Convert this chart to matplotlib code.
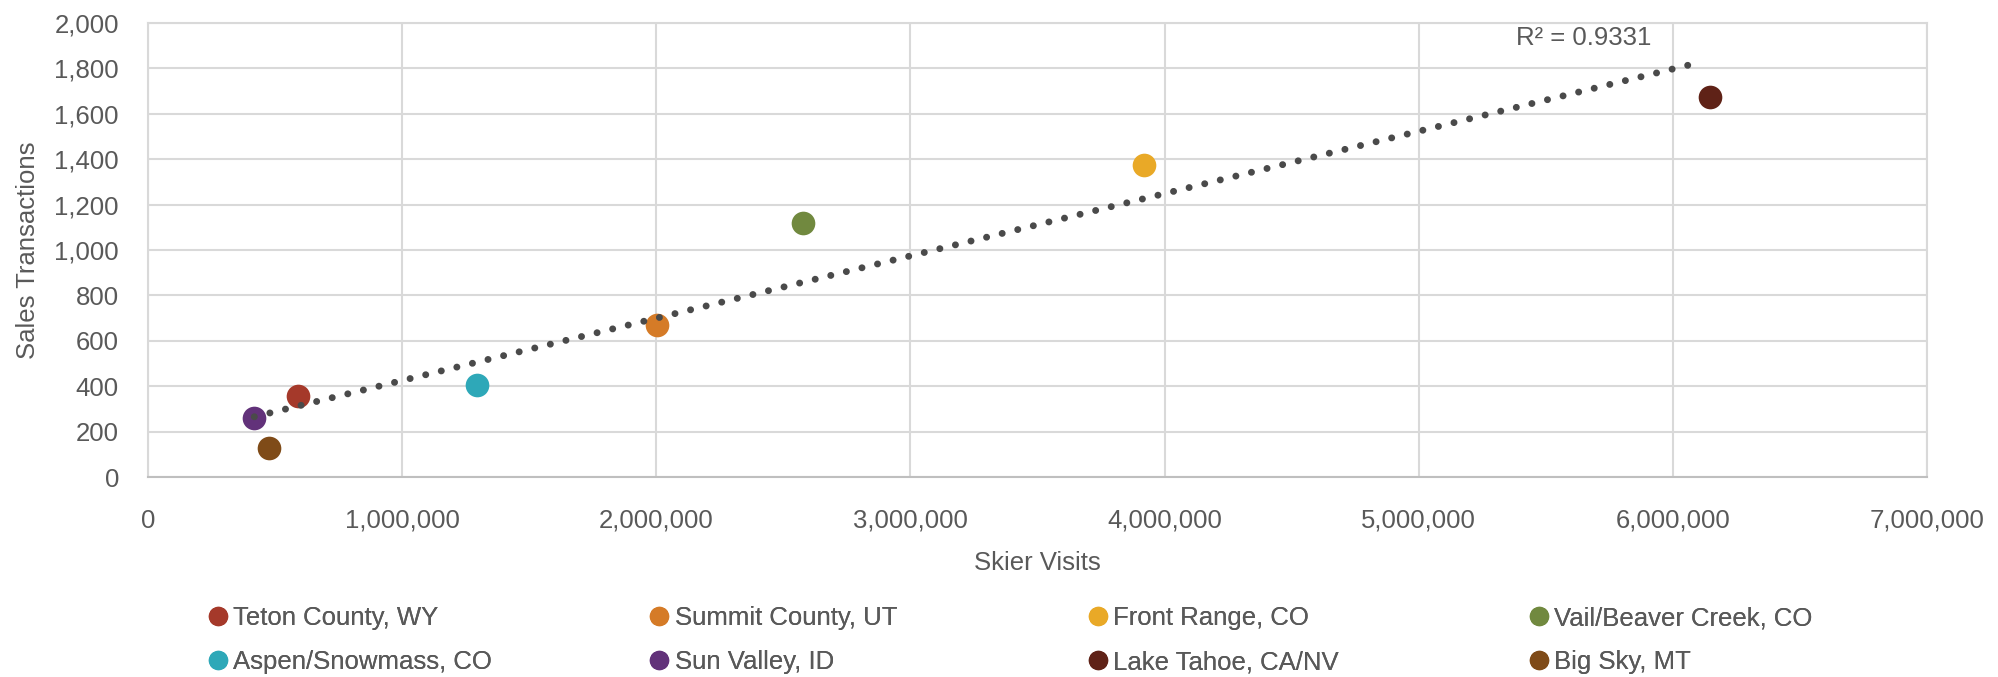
import numpy as np
import matplotlib
matplotlib.use("Agg")
import matplotlib.pyplot as plt
from matplotlib.ticker import FuncFormatter, MultipleLocator
from matplotlib.lines import Line2D

plt.rcParams['font.family'] = ['Liberation Sans', 'DejaVu Sans']

# data
regions = ['Teton County, WY', 'Summit County, UT', 'Front Range, CO', 'Vail/Beaver Creek, CO',
           'Aspen/Snowmass, CO', 'Sun Valley, ID', 'Lake Tahoe, CA/NV', 'Big Sky, MT']
skier_visits = [589000, 2003000, 3918000, 2577000, 1293000, 418000, 6144000, 474000]
sales = [358, 669, 1376, 1118, 404, 262, 1672, 127]
colors = ['#A5392A', '#D57B27', '#E9A927', '#71893F', '#2EA8B8', '#62327A', '#5F2217', '#7F4B18']

txt = '#595959'
fs = 18.5
fig = plt.figure(figsize=(19.98, 6.77), dpi=100)
ax = fig.add_axes([0.0741, 0.2954, 0.8904, 0.6706])

for name, x, y, c in zip(regions, skier_visits, sales, colors):
    ax.scatter(x, y, s=290, color=c, zorder=3, linewidths=0, label=name)

# linear trendline
xs = np.array(skier_visits, dtype=float)
ys = np.array(sales, dtype=float)
k, b = np.polyfit(xs, ys, 1)
xl = np.linspace(xs.min(), xs.max() - 40000, 200)
ax.plot(xl, k * xl + b, color='#4A4A4A', lw=5, linestyle=(0, (0.01, 2.3)),
        dash_capstyle='round', zorder=4)
ax.text(5650000, 1934, 'R² = 0.9331', color=txt, fontsize=fs, ha='center', va='center')

ax.set_xlim(0, 7000000)
ax.set_ylim(0, 2000)
ax.xaxis.set_major_locator(MultipleLocator(1000000))
ax.yaxis.set_major_locator(MultipleLocator(200))
ax.xaxis.set_major_formatter(FuncFormatter(lambda v, p: f'{v:,.0f}'))
ax.yaxis.set_major_formatter(FuncFormatter(lambda v, p: f'{v:,.0f}'))
ax.grid(True, color='#D9D9D9', lw=1.5)
ax.set_axisbelow(True)
for s in ['top', 'right', 'left']:
    ax.spines[s].set_color('#D9D9D9')
    ax.spines[s].set_linewidth(1.5)
ax.spines['bottom'].set_color('#BFBFBF')
ax.spines['bottom'].set_linewidth(1.5)
ax.tick_params(length=0, labelsize=fs, labelcolor=txt)
ax.tick_params(axis='y', pad=21)
ax.tick_params(axis='x', pad=23)
ax.set_xlabel('Skier Visits', fontsize=fs, color=txt, labelpad=13)
ax.set_ylabel('Sales Transactions', fontsize=fs, color=txt, labelpad=10)

# legend: 4 equal-width columns, two rows
col_x = [0.0975, 0.3185, 0.538, 0.7585]
for i, cx in enumerate(col_x):
    hs = [Line2D([], [], marker='o', ls='', ms=14, color=colors[j], markeredgewidth=0)
          for j in (i, i + 4)]
    leg = fig.legend(hs, [regions[i], regions[i + 4]], loc='upper left',
                     bbox_to_anchor=(cx, 0.12), frameon=False, fontsize=fs,
                     handletextpad=0.1, labelspacing=0.78, borderaxespad=0,
                     handlelength=1.0, labelcolor=txt)
    fig.add_artist(leg)

fig.savefig('out.png', dpi=100)
